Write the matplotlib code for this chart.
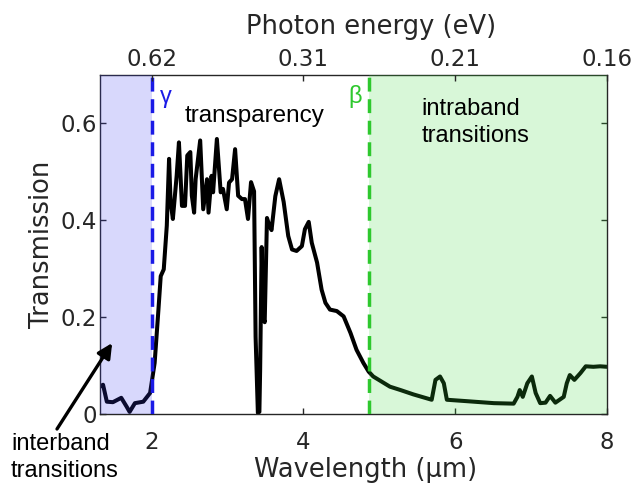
import numpy as np
import matplotlib
matplotlib.use("Agg")
import matplotlib.pyplot as plt

# transmission spectrum (wavelength in um)
wavelength = [
    1.32, 1.36, 1.41, 1.49, 1.60, 1.67, 1.71, 1.78, 1.89, 1.98,
    2.04, 2.09, 2.12, 2.16, 2.20, 2.23, 2.25, 2.28, 2.33, 2.36,
    2.40, 2.44, 2.47, 2.51, 2.53, 2.56, 2.58, 2.64, 2.68, 2.73,
    2.75, 2.79, 2.81, 2.86, 2.91, 2.94, 2.99, 3.02, 3.06, 3.10,
    3.14, 3.19, 3.23, 3.27, 3.31, 3.35, 3.37, 3.40, 3.42, 3.43,
    3.45, 3.47, 3.49, 3.52, 3.55, 3.58, 3.63, 3.68, 3.74, 3.80,
    3.85, 3.91, 3.98, 4.02, 4.07, 4.11, 4.18, 4.24, 4.29, 4.35,
    4.44, 4.53, 4.62, 4.70, 4.79, 4.86, 4.92, 5.14, 5.28, 5.45,
    5.69, 5.74, 5.80, 5.85, 5.89, 6.16, 6.51, 6.77, 6.82, 6.85,
    6.89, 6.95, 7.01, 7.06, 7.12, 7.19, 7.25, 7.32, 7.43, 7.47,
    7.51, 7.57, 7.65, 7.72, 7.82, 7.91, 8.00,
]
transmission = [
    0.057, 0.061, 0.026, 0.025, 0.034, 0.016, 0.005, 0.023, 0.026, 0.044,
    0.106, 0.216, 0.285, 0.299, 0.389, 0.527, 0.438, 0.403, 0.492, 0.561,
    0.430, 0.430, 0.534, 0.541, 0.451, 0.416, 0.485, 0.565, 0.423, 0.485,
    0.416, 0.492, 0.458, 0.568, 0.458, 0.465, 0.423, 0.478, 0.485, 0.547,
    0.451, 0.444, 0.444, 0.403, 0.479, 0.460, 0.160, 0.003, 0.005, 0.092,
    0.345, 0.200, 0.190, 0.405, 0.390, 0.380, 0.450, 0.485, 0.438, 0.368,
    0.340, 0.337, 0.347, 0.382, 0.397, 0.354, 0.313, 0.257, 0.230, 0.216,
    0.213, 0.202, 0.168, 0.133, 0.106, 0.088, 0.078, 0.057, 0.050, 0.041,
    0.030, 0.071, 0.078, 0.064, 0.030, 0.027, 0.023, 0.022, 0.036, 0.050,
    0.036, 0.064, 0.078, 0.044, 0.023, 0.024, 0.038, 0.024, 0.036, 0.064,
    0.081, 0.071, 0.085, 0.099, 0.098, 0.099, 0.098,
]

gamma_edge = 2.0   # interband edge (um)
beta_edge = 4.87   # intraband edge (um)

wl_ticks = [2, 4, 6, 8]
energy_labels = ["0.62", "0.31", "0.21", "0.16"]
t_ticks = [0, 0.2, 0.4, 0.6]
t_labels = ["0", "0.2", "0.4", "0.6"]

blue = "#1a1ae6"
green = "#2ec82e"
dark = "#262626"
txt_font = ["Liberation Sans", "DejaVu Sans"]

fig = plt.figure(figsize=(6.41, 4.93), dpi=100)
ax = fig.add_axes([100 / 641, 78.7 / 493, 507 / 641, 339.3 / 493])

ax.plot(wavelength, transmission, color="k", lw=2.9, zorder=2,
        solid_joinstyle="round", solid_capstyle="round")

# shaded regions sit over the curve
ax.axvspan(1.32, gamma_edge, color=(60 / 255, 60 / 255, 240 / 255), alpha=0.2, lw=0, zorder=3)
ax.axvspan(beta_edge, 8.0, color=(60 / 255, 215 / 255, 60 / 255), alpha=0.2, lw=0, zorder=3)

ax.axvline(gamma_edge, color=blue, lw=2.5, ls=(0, (4, 2.2)), zorder=4)
ax.axvline(beta_edge, color=green, lw=2.5, ls=(0, (4, 2.2)), zorder=4)

ax.set_xlim(1.32, 8.0)
ax.set_ylim(0, 0.70)

ax.set_xticks(wl_ticks)
ax.set_yticks(t_ticks)
ax.set_yticklabels(t_labels)
ax.tick_params(axis="x", direction="in", length=4, width=1, colors=dark,
               labelsize=16.5, pad=12)
ax.tick_params(axis="y", direction="in", length=4, width=1, colors=dark,
               labelsize=16.5, pad=2, right=True)
for s in ax.spines.values():
    s.set_color(dark)
    s.set_linewidth(1.0)

ax.set_xlabel("Wavelength (µm)", fontsize=18.5, color=dark)
ax.xaxis.set_label_coords(0.523, -0.125)
ax.set_ylabel("Transmission", fontsize=18.5, color=dark)
ax.yaxis.set_label_coords(-0.088, 0.5)

# photon energy on top
ax2 = ax.twiny()
ax2.set_xlim(ax.get_xlim())
ax2.set_xticks(wl_ticks)
ax2.set_xticklabels(energy_labels)
ax2.tick_params(axis="x", direction="in", length=4, width=1, colors=dark,
                labelsize=16.5, pad=3)
for s in ax2.spines.values():
    s.set_visible(False)
ax2.set_xlabel("Photon energy (eV)", fontsize=18.5, color=dark, labelpad=8)
ax2.xaxis.set_label_coords(0.534, 1.12)

ax.text(2.19, 0.643, "γ", color=blue, fontsize=17, family=txt_font,
        ha="center", va="baseline", zorder=5)
ax.text(4.68, 0.643, "β", color=green, fontsize=17, family=txt_font,
        ha="center", va="baseline", zorder=5)
ax.text(2.44, 0.603, "transparency", fontsize=17.5, family=txt_font,
        va="baseline", zorder=5)
ax.text(5.56, 0.562, "intraband\ntransitions", fontsize=17, family=txt_font,
        va="baseline", linespacing=1.3, zorder=5)

fig.text(11 / 641, (493 - 477) / 493, "interband\ntransitions", fontsize=17,
         family=txt_font, va="baseline", linespacing=1.3)
ax.annotate("", xy=(1.48, 0.147), xycoords="data",
            xytext=(57 / 641, (493 - 429) / 493), textcoords="figure fraction",
            arrowprops=dict(arrowstyle="-|>", lw=2.4, color="k",
                            mutation_scale=22, shrinkA=0, shrinkB=0),
            annotation_clip=False, zorder=6)

fig.savefig("out.png", dpi=100)
